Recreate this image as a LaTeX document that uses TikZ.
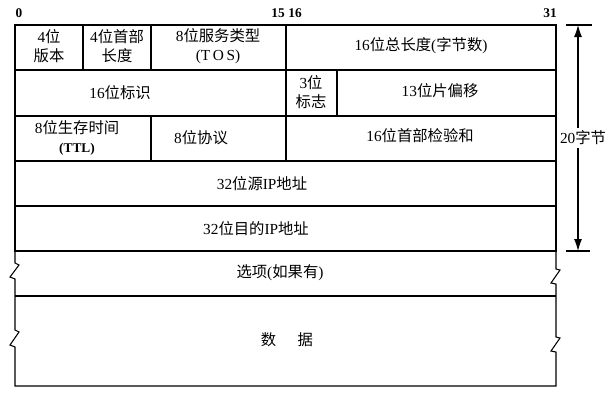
\documentclass[tikz,border=0pt]{standalone}
\usepackage{fontspec}
\setmainfont{Liberation Serif}
\newfontfamily\zh{Noto Sans CJK SC}
\newcommand{\z}[1]{{\zh #1}}
\usetikzlibrary{arrows.meta}

\begin{document}
\begin{tikzpicture}[x=0.75pt, y=-0.75pt, font=\fontsize{11.5}{14}\selectfont,
	grid/.style={line width=0.8pt},
	field/.style={align=center, inner sep=1pt},
	bitno/.style={font=\bfseries\fontsize{10}{12}\selectfont, inner sep=0pt},
	dim/.style={line width=0.8pt, {Latex[length=9pt,width=6pt]}-{Latex[length=9pt,width=6pt]}}]
\useasboundingbox (0,0) rectangle (616,401);
\node[bitno] (b0) at (19,13) {0};
\node[bitno] (b15) at (278,13) {15};
\node[bitno] (b16) at (295,13) {16};
\node[bitno] (b31) at (550,13) {31};
\draw[grid] (15,25) rectangle (556,251);
\foreach \y in {70,116,161,206}
	\draw[grid] (15,\y) -- (556,\y);
\draw[grid] (83,25) -- (83,70) (151,25) -- (151,70) (286,25) -- (286,161)
	(337,70) -- (337,116) (151,116) -- (151,161);
\draw[grid] (15,251) -- (15,263) -- (19,265) -- (10,277) -- (15,279)
	-- (15,330) -- (19,332) -- (10,345) -- (15,347) -- (15,386)
	-- (556,386) -- (556,352) -- (551,351) -- (560,338) -- (556,337)
	-- (556,284) -- (551,283) -- (560,270) -- (556,269) -- (556,251);
\draw[grid] (15,296) -- (556,296);
\node[field] (ver) at (49,46) {4\z{位}\\\z{版本}};
\node[field] (hlen) at (117,46) {4\z{位首部}\\\z{长度}};
\node[field] (tos) at (218,46) {8\z{位服务类型}\\(T\,O\,S)};
\node[field] (totlen) at (421,46) {16\z{位总长度}(\z{字节数})};
\node[field] (ident) at (120,93) {16\z{位标识}};
\node[field] (flags) at (311,92) {3\z{位}\\\z{标志}};
\node[field] (fragoff) at (440,91) {13\z{位片偏移}};
\node[field] (ttl) at (77,138) {8\z{位生存时间}\\{\bfseries\fontsize{10}{12}\selectfont (TTL)}};
\node[field] (proto) at (201,138) {8\z{位协议}};
\node[field] (hcksum) at (420,136) {16\z{位首部检验和}};
\node[field] (srcip) at (262,184) {32\z{位源}IP\z{地址}};
\node[field] (dstip) at (256,229) {32\z{位目的}IP\z{地址}};
\node[field] (opts) at (280,273) {\z{选项}(\z{如果有})};
\node[field] (data) at (287,340) {\z{数}\hspace{1.4em}\z{据}};
\coordinate (hdrtop) at (578,25);
\coordinate (hdrbot) at (578,251);
\draw[grid] (566,25) -- (592,25) (566,251) -- (590,251);
\draw[dim] (hdrtop) -- (hdrbot);
\node[field, fill=white, inner sep=2pt] (hdrlen) at (583,138) {20\z{字节}};
\end{tikzpicture}
\end{document}
